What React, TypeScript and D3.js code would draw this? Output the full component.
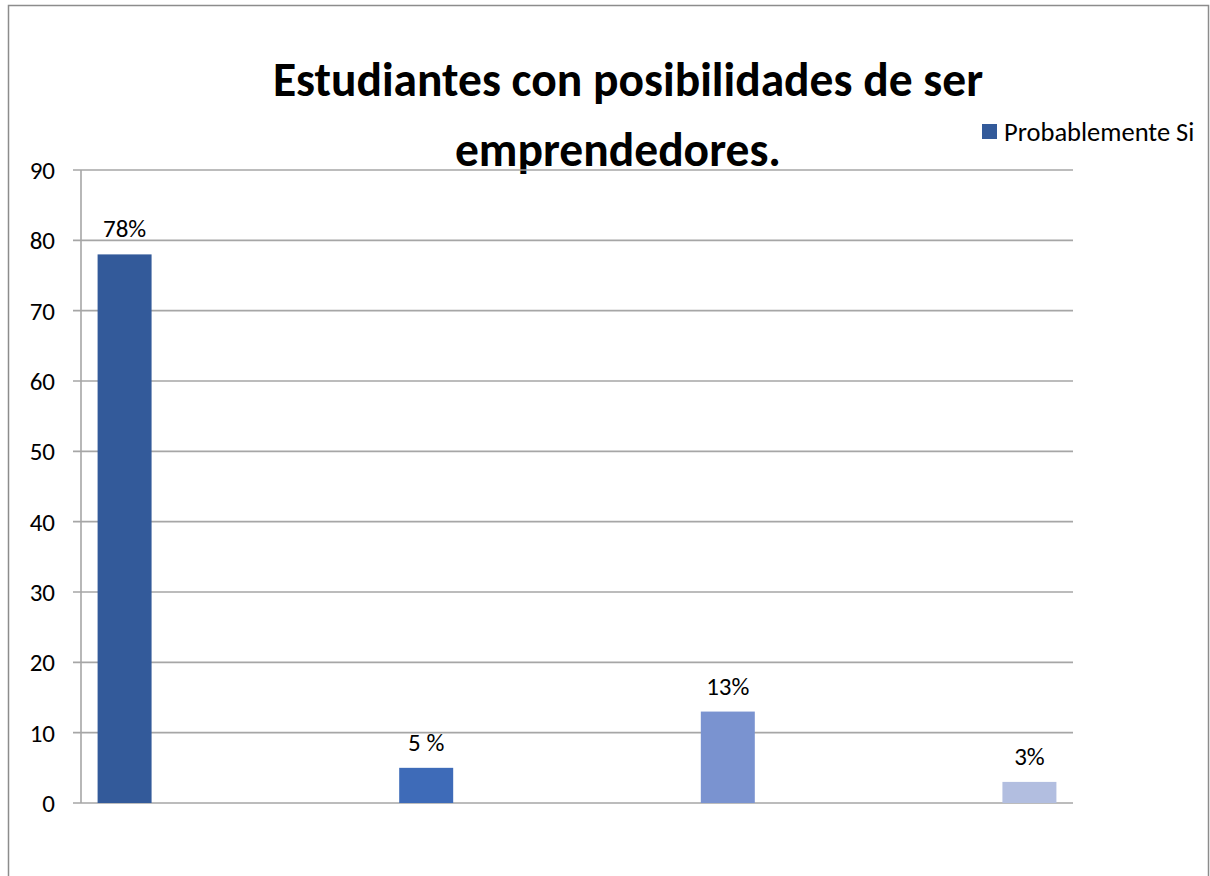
import React from 'react';
import * as d3 from 'd3';

// Chart data
const categories = ['Probablemente Si 1', 'Probablemente Si 2', 'Probablemente Si 3', 'Probablemente Si 4'];
const values = [78, 5, 13, 3];
const valueLabels = ['78%', '5 %', '13%', '3%'];
const barColors = ['#335a9a', '#3e6bb8', '#7a93d0', '#b2bee0'];
const yTicks = [0, 10, 20, 30, 40, 50, 60, 70, 80, 90];
const titleLines = ['Estudiantes con posibilidades de ser', 'emprendedores.'];
const seriesName = 'Probablemente Si';

const W = 1210;
const H = 876;
const FONT = "Carlito, Calibri, Lato, 'Open Sans', sans-serif";

const App = () => {
    // plot area
    const margin = { top: 170, right: 137, bottom: 73, left: 81 };
    const plotRight = W - margin.right;
    const plotBottom = H - margin.bottom;

    const xScale = d3.scaleBand<string>()
        .domain(categories)
        .range([margin.left, plotRight])
        .paddingInner(0.821)
        .paddingOuter(0.055);

    const yScale = d3.scaleLinear()
        .domain([0, 90])
        .range([plotBottom, margin.top]);

    const grid = '#a6a6a6';

    return (
        <svg width={W} height={H} style={{ position: 'absolute', left: 0, top: 0 }} fontFamily={FONT}>
            <rect x={0} y={0} width={W} height={H} fill="#fff" />
            {/* outer chart border */}
            <rect x={8.5} y={5.5} width={1200} height={900} fill="none" stroke="#8c8c8c" strokeWidth={1.5} />

            {/* title */}
            <text textAnchor="middle" fontWeight="bold" fontSize={47.5} fill="#000">
                <tspan x={628} y={96}>{titleLines[0]}</tspan>
                <tspan x={618} y={166}>{titleLines[1]}</tspan>
            </text>

            {/* legend */}
            <rect x={982} y={124} width={15} height={15} fill={barColors[0]} />
            <text x={1004} y={141} fontSize={26.5} fill="#000">{seriesName}</text>

            {/* gridlines and y ticks */}
            {yTicks.map(t => (
                <g key={t}>
                    <line x1={73} x2={plotRight} y1={yScale(t)} y2={yScale(t)} stroke={grid} strokeWidth={1.6} />
                    <text x={55} y={yScale(t)} dy="0.36em" textAnchor="end" fontSize={25} fill="#000">{t}</text>
                </g>
            ))}
            <line x1={margin.left} x2={margin.left} y1={margin.top} y2={plotBottom} stroke={grid} strokeWidth={1.6} />

            {/* bars */}
            {values.map((v, i) => (
                <rect key={i}
                    x={xScale(categories[i])}
                    y={yScale(v)}
                    width={xScale.bandwidth()}
                    height={plotBottom - yScale(v)}
                    fill={barColors[i]} />
            ))}

            {/* data labels */}
            {values.map((v, i) => (
                <text key={'l' + i}
                    x={(xScale(categories[i]) as number) + xScale.bandwidth() / 2}
                    y={yScale(v) - 17}
                    textAnchor="middle" fontSize={25} fill="#000">{valueLabels[i]}</text>
            ))}
        </svg>
    );
};

export default App;
